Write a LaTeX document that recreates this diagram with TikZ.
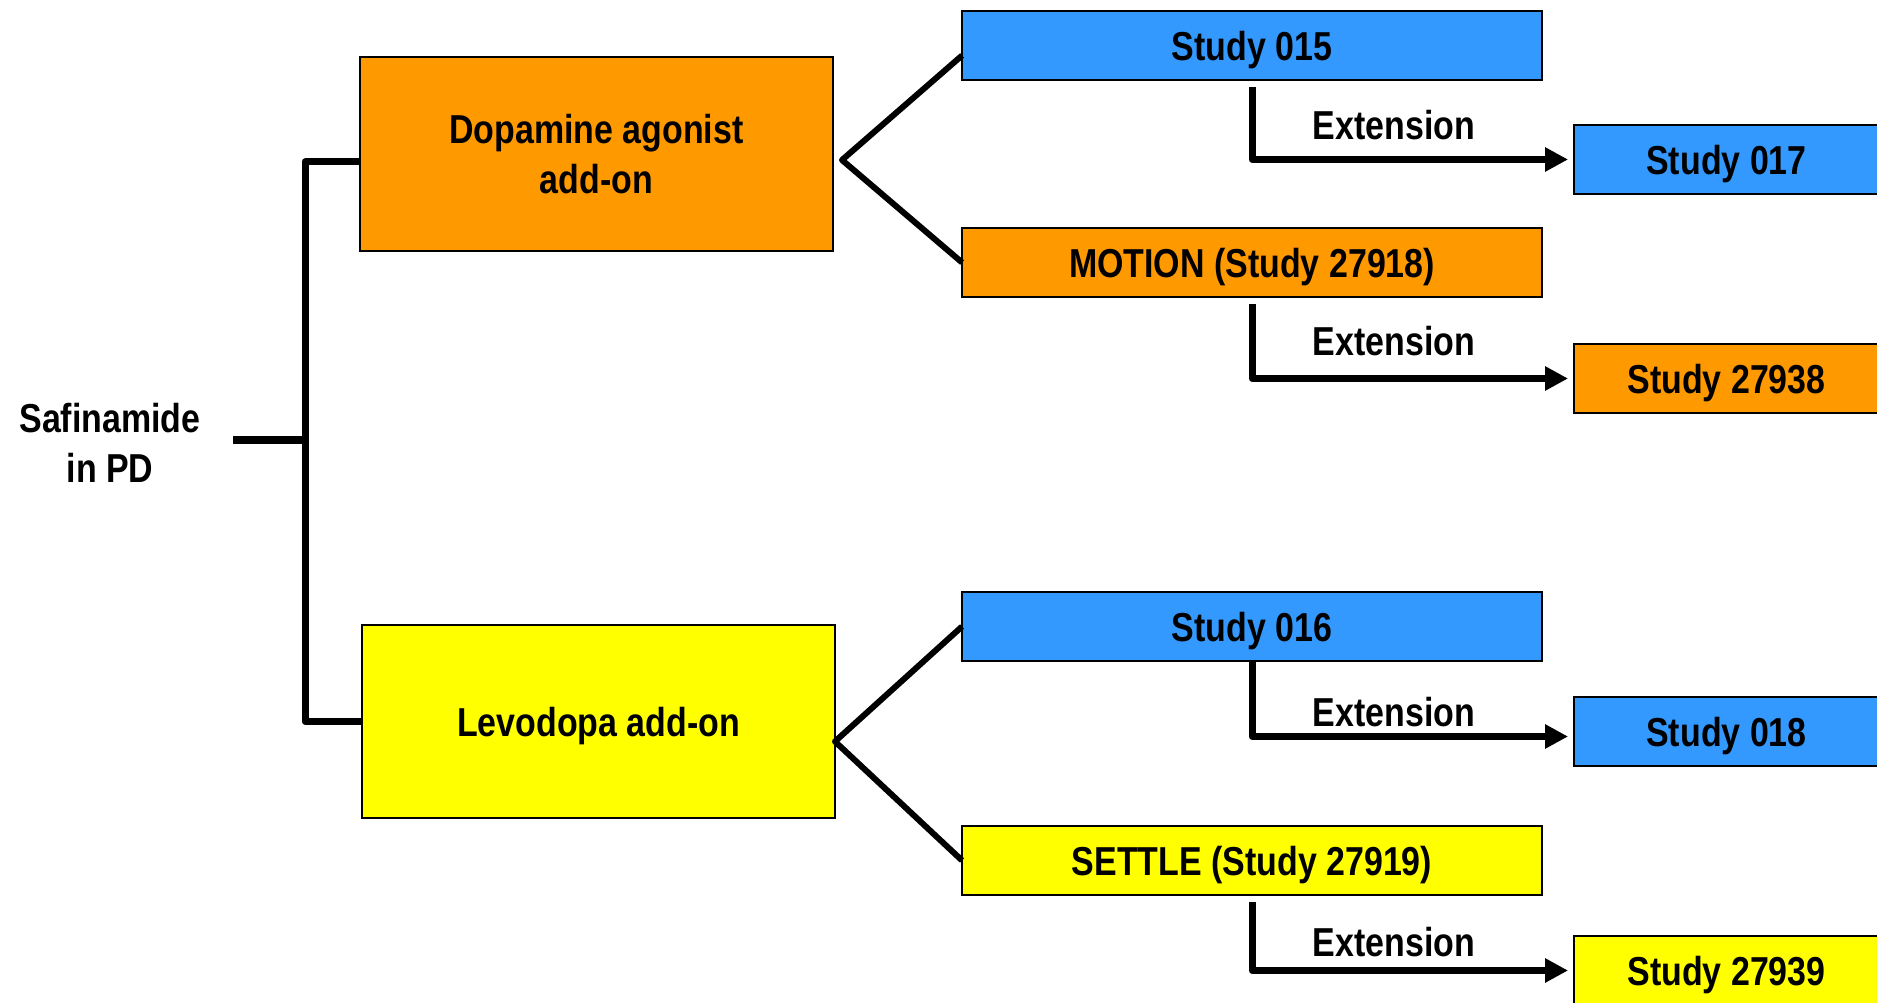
\documentclass[tikz,border=0pt]{standalone}
\usepackage{fontspec}
\setmainfont[FakeStretch=0.84]{Liberation Sans}
\usetikzlibrary{arrows.meta,calc}
\definecolor{SOrange}{HTML}{FF9900}
\definecolor{SBlue}{HTML}{3399FF}
\definecolor{SYellow}{HTML}{FFFF00}

\begin{document}
\begin{tikzpicture}[
  x=0.02cm,y=-0.02cm,
  every node/.style={font=\fontsize{23pt}{28.45pt}\selectfont\bfseries,text depth=0pt},
  arm/.style={draw=black,line width=0.04cm,inner sep=0pt,outer sep=0pt,
    align=center,minimum width=9.46cm,minimum height=3.87cm},
  trial/.style={draw=black,line width=0.04cm,inner sep=0pt,outer sep=0pt,
    minimum width=11.6cm,minimum height=1.39cm},
  extbox/.style={draw=black,line width=0.04cm,inner sep=0pt,outer sep=0pt,
    minimum width=6.1cm,minimum height=1.4cm},
  bar/.style={line width=0.14cm,line join=round},
  fork/.style={line width=0.12cm,line join=round},
  arr/.style={line width=0.14cm,line join=round,
    -{Triangle[length=0.46cm,width=0.46cm]},shorten >=0.12cm}
]
  \useasboundingbox (0,0) rectangle (1877,1003);

  \node[align=center] (saf) at (110,443) {Safinamide\\in PD};
  \node[arm,fill=SOrange] (dop) at (596.5,154) {Dopamine agonist\\add-on};
  \node[arm,fill=SYellow] (levo) at (598.5,721.5) {Levodopa add-on};

  \node[trial,fill=SBlue] (s015) at (1252,45.5) {Study 015};
  \node[trial,fill=SOrange] (motion) at (1252,262.5) {MOTION (Study 27918)};
  \node[trial,fill=SBlue] (s016) at (1252,626.5) {Study 016};
  \node[trial,fill=SYellow] (settle) at (1252,860.5) {SETTLE (Study 27919)};

  \node[extbox,fill=SBlue] (s017) at (1726.5,159.5) {Study 017};
  \node[extbox,fill=SOrange] (s27938) at (1726.5,378.5) {Study 27938};
  \node[extbox,fill=SBlue] (s018) at (1726.5,731.5) {Study 018};
  \node[extbox,fill=SYellow] (s27939) at (1726.5,970.5) {Study 27939};

  \node (ext1) at (1394,125) {Extension};
  \node (ext2) at (1394,341) {Extension};
  \node (ext3) at (1394,712) {Extension};
  \node (ext4) at (1394,942) {Extension};

  % bracket from the drug to both arms
  \coordinate (stub) at (233,440);
  \coordinate (brk) at (305,440);
  \draw[line width=0.18cm] (stub) -- (brk);
  \draw[bar] ($(dop.west)+(0,8)$) -| (brk) |- (levo.west);

  % forks into the trials
  \coordinate (dfork) at (842,160);
  \coordinate (lfork) at ($(levo.east)+(0,20)$);
  \draw[fork] ($(s015.west)+(0,10)$) -- (dfork) -- (motion.west);
  \draw[fork] (s016.west) -- (lfork) -- (settle.west);

  % extension studies
  \draw[arr] ([yshift=-0.14cm]s015.south) |- (s017.west);
  \draw[arr] ([yshift=-0.14cm]motion.south) |- (s27938.west);
  \draw[arr] (s016.south) |- ($(s018.west)+(0,5)$);
  \draw[arr] ([yshift=-0.14cm]settle.south) |- (s27939.west);
\end{tikzpicture}
\end{document}
